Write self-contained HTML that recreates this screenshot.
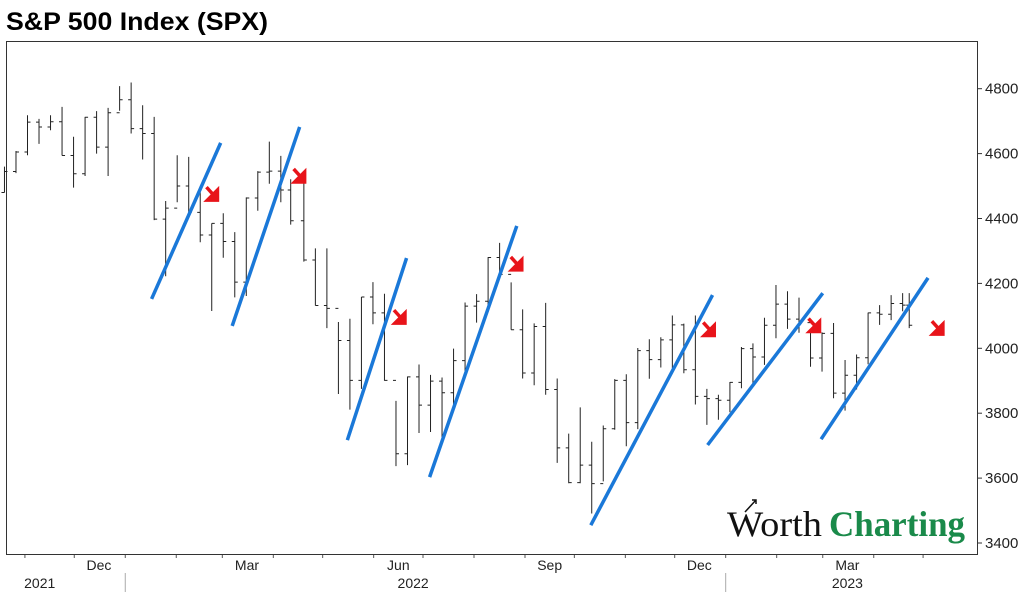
<!DOCTYPE html>
<html><head><meta charset="utf-8"><style>
body{margin:0;background:#fff;width:1024px;height:594px;overflow:hidden;font-family:"Liberation Sans",sans-serif}
</style></head><body>
<svg id="c" width="1024" height="594" xmlns="http://www.w3.org/2000/svg">
<text x="6" y="30" font-family="Liberation Sans, sans-serif" font-weight="bold" font-size="25" textLength="262" lengthAdjust="spacingAndGlyphs" fill="#000">S&amp;P 500 Index (SPX)</text>
<rect x="6.5" y="41.5" width="971" height="513" fill="none" stroke="#333" stroke-width="1"/>
<g id="g"></g>
<g>
<text x="727" y="536" font-family="Liberation Serif, serif" font-size="36" textLength="95" lengthAdjust="spacingAndGlyphs" fill="#111">Worth</text>
<text x="829" y="536" font-family="Liberation Serif, serif" font-weight="bold" font-size="36" textLength="136" lengthAdjust="spacingAndGlyphs" fill="#1a8a4a">Charting</text>
<path d="M745 512 L756 500 M752 500 L756 500 L756 504" stroke="#111" stroke-width="1.5" fill="none"/>
</g>
</svg>
<script>
// Weekly SPX bars; day offsets relative to 2022-09-01
const weekEnd=["2021-10-22","2021-10-29","2021-11-05","2021-11-12","2021-11-19","2021-11-26","2021-12-03","2021-12-10","2021-12-17","2021-12-24","2021-12-31","2022-01-07","2022-01-14","2022-01-21","2022-01-28","2022-02-04","2022-02-11","2022-02-18","2022-02-25","2022-03-04","2022-03-11","2022-03-18","2022-03-25","2022-04-01","2022-04-08","2022-04-14","2022-04-22","2022-04-29","2022-05-06","2022-05-13","2022-05-20","2022-05-27","2022-06-03","2022-06-10","2022-06-17","2022-06-24","2022-07-01","2022-07-08","2022-07-15","2022-07-22","2022-07-29","2022-08-05","2022-08-12","2022-08-19","2022-08-26","2022-09-02","2022-09-09","2022-09-16","2022-09-23","2022-09-30","2022-10-07","2022-10-14","2022-10-21","2022-10-28","2022-11-04","2022-11-11","2022-11-18","2022-11-25","2022-12-02","2022-12-09","2022-12-16","2022-12-23","2022-12-30","2023-01-06","2023-01-13","2023-01-20","2023-01-27","2023-02-03","2023-02-10","2023-02-17","2023-02-24","2023-03-03","2023-03-10","2023-03-17","2023-03-24","2023-03-31","2023-04-07","2023-04-14","2023-04-21","2023-04-25"];
const highs=[4560,4608,4718,4707,4718,4744,4652,4713,4731,4741,4808,4819,4749,4713,4454,4595,4590,4490,4385,4416,4358,4465,4546,4637,4593,4521,4513,4308,4308,4081,4091,4158,4204,4168,3838,3913,3950,3918,3910,3999,4141,4167,4281,4325,4203,4120,4077,4140,3907,3737,3818,3712,3762,3905,3920,4001,4028,4034,4101,4076,4101,3875,3857,3896,4004,4015,4094,4195,4176,4156,4049,4049,4078,3964,3981,4110,4133,4164,4170,4170];
const lows=[4480,4540,4595,4630,4672,4594,4495,4531,4600,4531,4732,4662,4582,4395,4222,4450,4402,4327,4115,4279,4157,4161,4424,4507,4450,4381,4267,4132,4062,3859,3811,3875,4074,3900,3637,3640,3739,3742,3721,3818,3911,4079,4112,4218,4057,3907,3886,3857,3647,3584,3584,3491,3590,3749,3698,3751,3906,3941,3939,3923,3827,3764,3780,3803,3877,3885,3949,4031,4060,4048,3943,3928,3846,3808,3873,3951,4072,4087,4114,4062];
const closes=[4545,4605,4697,4682,4698,4594,4538,4712,4620,4726,4766,4677,4662,4398,4432,4500,4419,4349,4385,4329,4204,4463,4543,4546,4488,4393,4272,4132,4123,4024,3901,4158,4109,3901,3675,3912,3825,3899,3863,3962,4130,4145,4280,4228,4057,3924,4067,3873,3693,3586,3640,3583,3752,3901,3771,3993,3965,4026,4072,3934,3852,3845,3840,3895,3999,3973,4071,4136,4090,4079,3970,4046,3862,3917,3971,4109,4105,4138,4133,4071];
const yTicks=[3400,3600,3800,4000,4200,4400,4600,4800];
const monthLabels=[["2021-12-16","Dec"],["2022-03-16","Mar"],["2022-06-16","Jun"],["2022-09-16","Sep"],["2022-12-16","Dec"],["2023-03-16","Mar"]];
const yearLabels=[["2021-11-10","2021"],["2022-06-25","2022"],["2023-03-16","2023"]];
const trendlines=[[-227,4152,-185,4633],[-178,4069,-137,4682],[-108,3717,-72,4278],[-58,3603,-5,4377],[40,3455,114,4164],[111,3702,181,4170],[180,3720,245,4217]];
const arrows=[[-190,4472],[-137,4528],[-76,4093],[-5,4257],[112,4055],[176,4067],[251,4059]];

const base=Date.UTC(2022,8,1);
function dayOf(s){const p=s.split('-');return (Date.UTC(+p[0],+p[1]-1,+p[2])-base)/864e5;}
function X(d){return 525+d*1.645;}
function Y(v){return 543-(v-3400)*0.3245;}
const NS="http://www.w3.org/2000/svg",g=document.getElementById('g');
function mk(t,a){const e=document.createElementNS(NS,t);for(const k in a)e.setAttribute(k,a[k]);g.appendChild(e);return e;}

yTicks.forEach(v=>{
 const t=mk('line',{x1:978,x2:982,y1:Y(v),y2:Y(v),stroke:'#333'});
 
 
 const l=mk('text',{x:985,y:Y(v)+5,'font-size':15,fill:'#222','font-family':'Liberation Sans, sans-serif'});
 l.textContent=v;
 
 
});
for(let y=2021,m=10;y<2023||m<=5;){
 const d=(Date.UTC(y,m-1,1)-base)/864e5;const x=X(d);
 if(x>6&&x<978){const t=mk('line',{x1:x,x2:x,y1:555,y2:558,stroke:'#555'});
 
 }
 m++;if(m>12){m=1;y++;}
}
monthLabels.forEach(([d,s])=>{
 const l=mk('text',{x:X(dayOf(d)),y:570,'font-size':14,fill:'#222','text-anchor':'middle','font-family':'Liberation Sans, sans-serif'});
 l.textContent=s;
 
 
});
yearLabels.forEach(([d,s])=>{
 const l=mk('text',{x:X(dayOf(d)),y:588,'font-size':14,fill:'#222','text-anchor':'middle','font-family':'Liberation Sans, sans-serif'});
 l.textContent=s;
 
 
});
["2022-01-01","2023-01-01"].forEach(d=>{
 const s=mk('line',{x1:X(dayOf(d)),x2:X(dayOf(d)),y1:573,y2:592,stroke:'#aaa'});
 
 
});
weekEnd.forEach((d,i)=>{
 const x=X(dayOf(d))-4;const o=i?closes[i-1]:lows[i];
 const b=mk('path',{d:`M${x} ${Y(highs[i])}V${Y(lows[i])}M${x-3} ${Y(o)}H${x}M${x} ${Y(closes[i])}H${x+3}`,stroke:'#222','stroke-width':1,fill:'none'});
 
 
});
trendlines.forEach(t=>{
 const l=mk('line',{x1:X(t[0]),y1:Y(t[1]),x2:X(t[2]),y2:Y(t[3]),stroke:'#1a78d8','stroke-width':3.5});
 
 
});
arrows.forEach(a=>{
 const x=X(a[0]),y=Y(a[1]);
 const p=mk('path',{d:`M${x-6} ${y-8}L${x+3} ${y+2}M${x+5} ${y-5}L${x+5} ${y+5}L${x-5} ${y+5}Z`,stroke:'#e8141a','stroke-width':3.5,fill:'#e8141a','stroke-linejoin':'miter'});
 
 
});
</script>
</body></html>
